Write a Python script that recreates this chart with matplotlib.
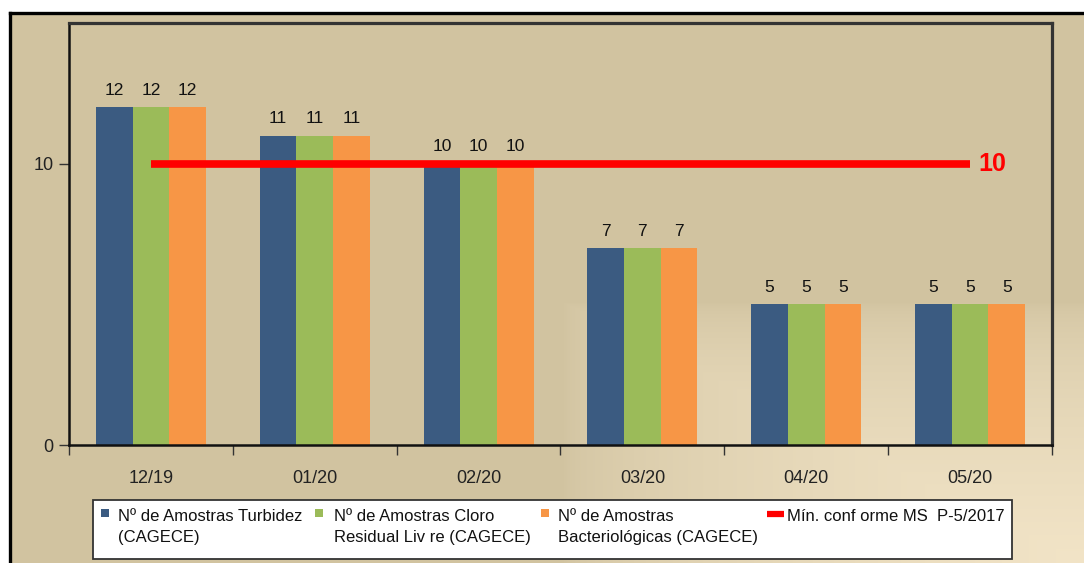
import matplotlib
matplotlib.use("Agg")
import matplotlib.pyplot as plt
import numpy as np
from matplotlib.patches import Rectangle

months = ["12/19", "01/20", "02/20", "03/20", "04/20", "05/20"]
turbidez = [12, 11, 10, 7, 5, 5]
cloro = [12, 11, 10, 7, 5, 5]
bacterio = [12, 11, 10, 7, 5, 5]
minimo = 10

series_names = [
    "Nº de Amostras Turbidez\n(CAGECE)",
    "Nº de Amostras Cloro\nResidual Liv re (CAGECE)",
    "Nº de Amostras\nBacteriológicas (CAGECE)",
]
line_name = "Mín. conf orme MS  P-5/2017"

plt.rcParams["font.family"] = ["Liberation Sans", "DejaVu Sans"]

TAN = np.array([209, 195, 160]) / 255
LIGHT = np.array([242, 228, 199]) / 255
colors = ["#3B5B81", "#9BBB59", "#F79646"]
RED = "#FF0000"

W, H = 1084, 563
fig = plt.figure(figsize=(W / 100, H / 100), dpi=100)
fig.patch.set_facecolor("white")

# background layer in pixel coords (y down)
bg = fig.add_axes([0, 0, 1, 1])
bg.set_xlim(0, W)
bg.set_ylim(H, 0)
bg.axis("off")

px = np.arange(9, W)[None, :]
py = np.arange(12, H)[:, None]
t = np.minimum((px - 563) / (W - 563), (py - 302) / (H - 302))
t = np.clip(t, 0, 1) ** 0.55
img = TAN[None, None, :] + t[..., None] * (LIGHT - TAN)[None, None, :]
bg.imshow(img, extent=(9, W, H, 12), aspect="auto", interpolation="nearest", zorder=0)
bg.plot([9.5, 9.5], [H, 12.5], color="black", lw=2.4, solid_capstyle="projecting", zorder=1)
bg.plot([9.5, W], [12.5, 12.5], color="black", lw=2.4, solid_capstyle="projecting", zorder=1)

# legend drawn by hand
bg.add_patch(Rectangle((93, 500), 1012 - 93, 59, facecolor="white", edgecolor="#333333",
                       lw=1.3, zorder=2))
hand_x = [101, 315, 541]
text_x = [118, 334, 558]
for hx, tx, c, name in zip(hand_x, text_x, colors, series_names):
    bg.add_patch(Rectangle((hx, 509), 8, 8, facecolor=c, edgecolor="none", zorder=3))
    bg.text(tx, 509, name, fontsize=12, va="top", ha="left", linespacing=1.5,
            color="#111111", zorder=3)
bg.plot([767, 784], [514, 514], color=RED, lw=4.5, solid_capstyle="butt", zorder=3)
bg.text(787, 509, line_name, fontsize=12, va="top", ha="left", color="#111111", zorder=3)

# main chart
ax = fig.add_axes([69 / W, 1 - 445 / H, (1052 - 69) / W, (445 - 23) / H])
ax.set_facecolor("none")

x = np.arange(len(months))
bw = 0.224
for i, vals in enumerate([turbidez, cloro, bacterio]):
    ax.bar(x + (i - 1) * bw, vals, width=bw, color=colors[i], zorder=2)
    for xi, v in zip(x + (i - 1) * bw, vals):
        ax.text(xi, v + 0.33, f"{v}", ha="center", va="bottom", fontsize=12.5, color="#111111")

ax.plot([x[0], x[-1]], [minimo, minimo], color=RED, lw=5.5, solid_capstyle="butt", zorder=3)
ax.text(x[-1] + 0.05, minimo, f"{minimo}", color=RED, fontsize=18, fontweight="bold",
        ha="left", va="center")

ax.set_xlim(-0.5, len(months) - 0.5)
ax.set_ylim(0, 15)
ax.set_yticks([0, 10])
ax.set_yticklabels(["0", "10"], fontsize=13, color="#222222")
ax.set_xticks(np.arange(-0.5, len(months), 1.0))
ax.set_xticklabels([])
ax.set_xticks(x, minor=True)
ax.set_xticklabels(months, minor=True, fontsize=13, color="#222222")
ax.tick_params(axis="x", which="major", length=7, width=1, color="#333333", direction="out")
ax.tick_params(axis="x", which="minor", length=0, pad=18)
ax.tick_params(axis="y", length=7, width=1, color="#333333", pad=4)

for s in ["top", "right"]:
    ax.spines[s].set_color("#333333")
    ax.spines[s].set_linewidth(2.3)
for s in ["left", "bottom"]:
    ax.spines[s].set_color("#111111")
    ax.spines[s].set_linewidth(1.8)

fig.savefig("out.png", dpi=100)
